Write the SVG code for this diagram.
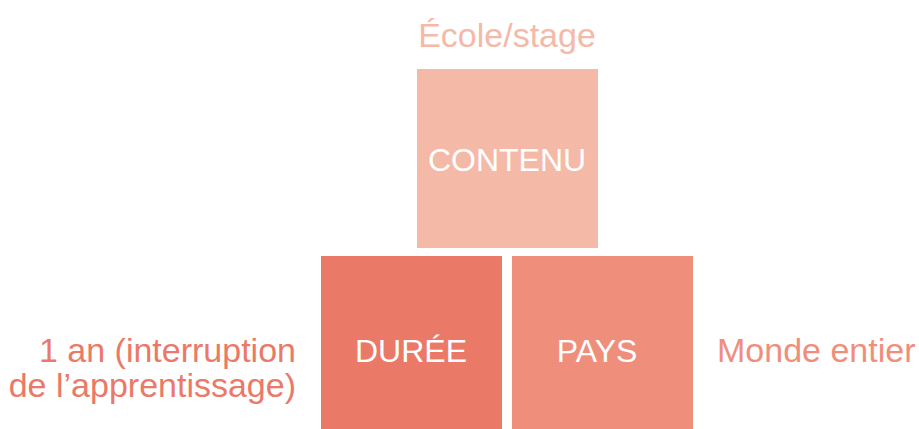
<svg xmlns="http://www.w3.org/2000/svg" width="919" height="429" viewBox="0 0 919 429">
  <style>
    .box-label { font-family: "Liberation Sans", Arial, sans-serif; font-size: 32px; fill: #ffffff; text-anchor: middle; }
    .side { font-family: "Liberation Sans", Arial, sans-serif; font-size: 34px; }
  </style>
  <rect width="919" height="429" fill="#ffffff"/>

  <g id="contenu">
    <text class="side" x="507" y="47" text-anchor="middle" fill="#F5B9A8">École/stage</text>
    <rect x="417" y="69" width="181" height="179" fill="#F5B9A8"/>
    <text class="box-label" x="507" y="171">CONTENU</text>
  </g>

  <g id="duree">
    <rect x="321" y="256" width="181" height="173" fill="#EB7967"/>
    <text class="box-label" x="411" y="362">DURÉE</text>
    <text class="side" x="296" y="362" text-anchor="end" fill="#EB7967">1 an (interruption</text>
    <text class="side" x="296" y="397" text-anchor="end" fill="#EB7967">de l’apprentissage)</text>
  </g>

  <g id="pays">
    <rect x="512" y="256" width="181" height="173" fill="#F08E7C"/>
    <text class="box-label" x="597" y="362">PAYS</text>
    <text class="side" x="717" y="362" fill="#F08E7C">Monde entier</text>
  </g>

  <g id="connectors"/>
</svg>
